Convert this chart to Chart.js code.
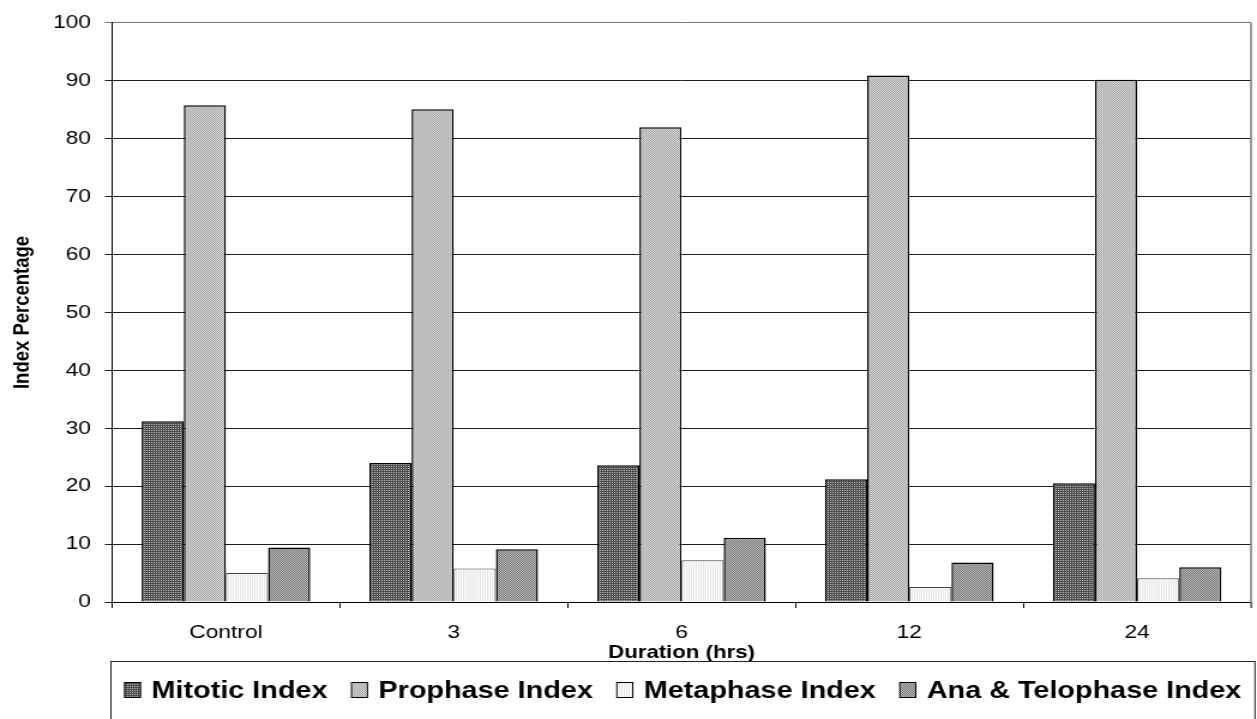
<!DOCTYPE html>
<html>
<head>
<meta charset="utf-8">
<title>Mitotic indices by treatment duration</title>
<script src="https://cdn.jsdelivr.net/npm/chart.js@4/dist/chart.umd.min.js"></script>
<style>
  html, body { margin: 0; padding: 0; background: #ffffff; overflow: hidden; }
  /* the drawing surface is rendered narrow and shown widened, giving the broad lettering */
  #chart { display: block; width: 1257px !important; height: 719px !important; }
</style>
</head>
<body>
<canvas id="chart" width="1048" height="719" style="width:1257px;height:719px"></canvas>
<script>
// ---- data ----
const categories = ['Control', '3', '6', '12', '24'];
const mitoticIndex = [31.2, 24.0, 23.6, 21.2, 20.5];
const prophaseIndex = [85.8, 85.1, 82.0, 90.9, 90.2];
const metaphaseIndex = [5.0, 5.8, 7.2, 2.6, 4.1];
const anaTelophaseIndex = [9.4, 9.1, 11.1, 6.8, 6.0];
const seriesNames = ['Mitotic Index', 'Prophase Index', 'Metaphase Index', 'Ana & Telophase Index'];
const yTickValues = [0, 10, 20, 30, 40, 50, 60, 70, 80, 90, 100];
const xAxisTitle = 'Duration (hrs)';
const yAxisTitle = 'Index Percentage';

const FONT = "'Liberation Sans', Arial, Helvetica, sans-serif";

// small tiled fills for the bars
function makePattern(w, h, cells) {
  const c = document.createElement('canvas');
  c.width = w; c.height = h;
  const g = c.getContext('2d');
  cells.forEach(([x, y, col]) => { g.fillStyle = col; g.fillRect(x, y, 1, 1); });
  return g.createPattern(c, 'repeat');
}
const ctx = document.getElementById('chart').getContext('2d');
const fills = [
  makePattern(2, 2, [[0,0,'#b4b4b4'],[1,0,'#505050'],[0,1,'#505050'],[1,1,'#4a4a4a']]),
  makePattern(2, 2, [[0,0,'#acacac'],[1,0,'#d0d0d0'],[0,1,'#d0d0d0'],[1,1,'#acacac']]),
  makePattern(2, 1, [[0,0,'#e8e8e8'],[1,0,'#fbfbfb']]),
  makePattern(2, 2, [[0,0,'#7a7a7a'],[1,0,'#b6b6b6'],[0,1,'#b6b6b6'],[1,1,'#7a7a7a']])
];
const borders = ['#000000', '#000000', '#444444', '#000000'];
const borderWidths = [1.5, 1.5, 1, 1.5];
const seriesValues = [mitoticIndex, prophaseIndex, metaphaseIndex, anaTelophaseIndex];

const datasets = seriesNames.map((name, i) => ({
  label: name,
  data: seriesValues[i],
  backgroundColor: fills[i],
  borderColor: borders[i],
  borderWidth: borderWidths[i],
  categoryPercentage: 0.74,
  barPercentage: 1.0
}));

// plot frame and the boxed legend underneath the axis title
const framePlugin = {
  id: 'frameAndLegend',
  afterDraw(chart) {
    const c = chart.ctx;
    const a = chart.chartArea;
    c.save();
    // right edge of the plot area
    c.strokeStyle = '#7a7a7a';
    c.lineWidth = 1.5;
    c.beginPath();
    c.moveTo(a.right, a.top);
    c.lineTo(a.right, a.bottom + 6);
    c.stroke();

    // legend frame
    const fx = 92.5, fr = 1046.3, fy = 661.5;
    c.strokeStyle = '#222222';
    c.lineWidth = 1;
    c.strokeRect(fx, fy, fr - fx, 80);

    // legend entries
    c.font = "bold 24px " + FONT;
    c.textBaseline = 'middle';
    c.textAlign = 'left';
    const sw = 13.3, sh = 15, tg = 9.2, ig = 20;
    const widths = chart.data.datasets.map(d => c.measureText(d.label).width);
    const total = widths.reduce((s, w) => s + w + sw + tg, 0) + ig * (widths.length - 1);
    let x = (fx + fr) / 2 - total / 2;
    const cy = 690;
    chart.data.datasets.forEach((d, i) => {
      c.fillStyle = d.backgroundColor;
      c.fillRect(x, cy - sh / 2, sw, sh);
      c.strokeStyle = '#000000';
      c.lineWidth = 1;
      c.strokeRect(x, cy - sh / 2, sw, sh);
      c.fillStyle = '#000000';
      c.fillText(d.label, x + sw + tg, cy + 1);
      x += sw + tg + widths[i] + ig;
    });
    c.restore();
  }
};

new Chart(ctx, {
  type: 'bar',
  data: { labels: categories, datasets },
  options: {
    responsive: false,
    devicePixelRatio: 1,
    animation: false,
    layout: { padding: { top: 18, right: 5, bottom: 55, left: 0 } },
    plugins: {
      legend: { display: false },
      tooltip: { enabled: false }
    },
    scales: {
      x: {
        grid: { display: true, drawOnChartArea: false, drawTicks: true, tickLength: 6, color: '#000000', offset: true },
        border: { display: true, color: '#000000', width: 1 },
        ticks: { font: { family: FONT, size: 19 }, color: '#000000', padding: 13, maxRotation: 0, autoSkip: false },
        title: { display: true, text: xAxisTitle, color: '#000000',
                 font: { family: FONT, size: 18.5, weight: 'bold' }, padding: { top: 0, bottom: 0 } },
        afterFit(scale) { scale.height = 62; }
      },
      y: {
        min: 0,
        max: 100,
        afterBuildTicks(scale) { scale.ticks = yTickValues.map(v => ({ value: v })); },
        grid: {
          color: (c) => (c.tick && c.tick.value === 100) ? '#7a7a7a' : '#1e1e1e',
          lineWidth: 1,
          tickLength: 6
        },
        border: { display: true, color: '#000000', width: 1 },
        ticks: { font: { family: FONT, size: 19 }, color: '#000000', padding: 11.5 },
        title: { display: true, text: yAxisTitle, color: '#000000',
                 font: { family: FONT, size: 18.5, weight: 'bold' }, padding: { top: 7.5, bottom: 0 } },
        afterFit(scale) { scale.width = 93.4; }
      }
    }
  },
  plugins: [framePlugin]
});
</script>
</body>
</html>
